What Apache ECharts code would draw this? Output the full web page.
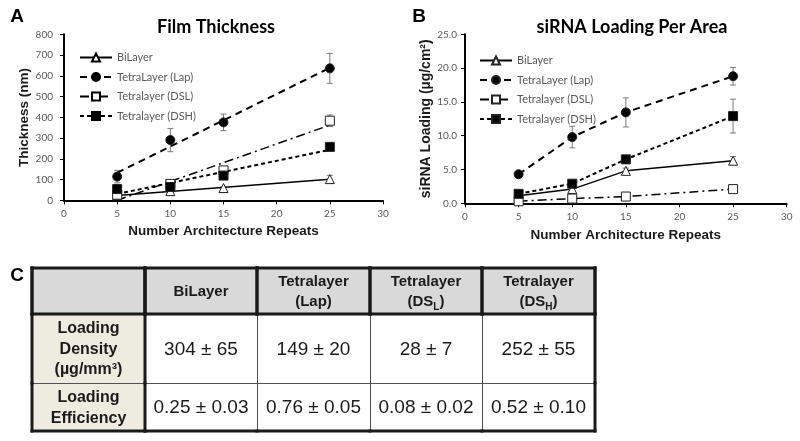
<!DOCTYPE html>
<html><head><meta charset="utf-8">
<script src="https://cdn.jsdelivr.net/npm/echarts@6/dist/echarts.min.js"></script>
<style>html,body{margin:0;padding:0;background:#fff}#c{width:800px;height:441px}</style>
</head><body><div id="c"></div>
<script>
// ---------- data ----------
const repeats = [5, 10, 15, 25];
const seriesNames = ['BiLayer', 'TetraLayer (Lap)', 'Tetralayer (DSL)', 'Tetralayer (DSH)'];

// Panel A: film thickness (nm)
const thickBiLayer = [25, 45, 60, 103];
const thickBiLayerErr = [5, 8, 6, 18];
const thickLap = [115, 291, 376, 636];
const thickLapErr = [30, 56, 40, 72];
const thickDSL = [28, 80, 145, 384];
const thickDSLErr = [8, 10, 12, 28];
const thickDSH = [55, 65, 120, 258];
const thickDSHErr = [20, 10, 12, 15];

// Panel B: siRNA loading per area (µg/cm²)
const loadBiLayer = [1.1, 2.1, 4.8, 6.3];
const loadBiLayerErr = [0.2, 0.4, 0.4, 0.6];
const loadLap = [4.3, 9.8, 13.45, 18.8];
const loadLapErr = [0.3, 1.6, 2.15, 1.3];
const loadDSL = [0.3, 0.7, 1.0, 2.1];
const loadDSLErr = [0.1, 0.2, 0.2, 0.3];
const loadDSH = [1.4, 2.9, 6.5, 12.9];
const loadDSHErr = [0.3, 0.3, 0.4, 2.5];

// Panel C: table
const tableColumns = ['', 'BiLayer', 'Tetralayer\n(Lap)', 'Tetralayer\n(DS_L)', 'Tetralayer\n(DS_H)'];
const tableRowLabels = ['Loading\nDensity\n(µg/mm³)', 'Loading\nEfficiency'];
const loadingDensity = ['304 ± 65', '149 ± 20', '28 ± 7', '252 ± 55'];
const loadingEfficiency = ['0.25 ± 0.03', '0.76 ± 0.05', '0.08 ± 0.02', '0.52 ± 0.10'];

// ---------- styles ----------
const marks = [
  {symbol: 'triangle', size: 9, fill: '#fff', line: {type: 'solid', width: 1.5}},
  {symbol: 'circle', size: 9, fill: '#000', line: {type: [7, 5], width: 2}},
  {symbol: 'rect', size: 9, fill: '#fff', line: {type: [9, 4, 2, 4], width: 1.5}},
  {symbol: 'rect', size: 9, fill: '#000', line: {type: [4, 3], width: 2}}
];
const thickVals = [thickBiLayer, thickLap, thickDSL, thickDSH];
const thickErrs = [thickBiLayerErr, thickLapErr, thickDSLErr, thickDSHErr];
const loadVals = [loadBiLayer, loadLap, loadDSL, loadDSH];
const loadErrs = [loadBiLayerErr, loadLapErr, loadDSLErr, loadDSHErr];

function linearTrend(xs, ys) {
  const n = xs.length;
  const mx = xs.reduce((a, b) => a + b, 0) / n;
  const my = ys.reduce((a, b) => a + b, 0) / n;
  let sxy = 0, sxx = 0;
  for (let i = 0; i < n; i++) { sxy += (xs[i] - mx) * (ys[i] - my); sxx += (xs[i] - mx) ** 2; }
  const b = sxy / sxx, a = my - b * mx;
  const x0 = Math.min(...xs), x1 = Math.max(...xs);
  return [[x0, a + b * x0], [x1, a + b * x1]];
}

function errSeries(name, gi, vals, errs) {
  return {
    type: 'custom', name, xAxisIndex: gi, yAxisIndex: gi, z: 1, silent: true, clip: false,
    data: repeats.map((x, i) => [x, vals[i], errs[i]]),
    encode: {x: 0, y: 1},
    renderItem(params, api) {
      const x = api.value(0), y = api.value(1), e = api.value(2);
      const t = api.coord([x, y + e]), b = api.coord([x, y - e]);
      const hw = 3, st = {stroke: '#7a7a7a', lineWidth: 1};
      return {type: 'group', children: [
        {type: 'line', shape: {x1: t[0], y1: t[1], x2: b[0], y2: b[1]}, style: st},
        {type: 'line', shape: {x1: t[0] - hw, y1: t[1], x2: t[0] + hw, y2: t[1]}, style: st},
        {type: 'line', shape: {x1: b[0] - hw, y1: b[1], x2: b[0] + hw, y2: b[1]}, style: st}
      ]};
    }
  };
}

const series = [];
// Panel A: trend lines + markers
seriesNames.forEach((nm, k) => {
  const m = marks[k];
  series.push({
    type: 'line', name: 'A|' + nm, xAxisIndex: 0, yAxisIndex: 0, z: 2, silent: true,
    data: linearTrend(repeats, thickVals[k]),
    symbol: m.symbol, showSymbol: false,
    itemStyle: {color: m.fill, borderColor: '#000', borderWidth: 1},
    lineStyle: {color: '#000', width: m.line.width, type: m.line.type}
  });
});
seriesNames.forEach((nm, k) => {
  const m = marks[k];
  series.push(errSeries('A|err' + k, 0, thickVals[k], thickErrs[k]));
  series.push({
    type: 'scatter', name: 'A|pts' + k, xAxisIndex: 0, yAxisIndex: 0, z: 3, silent: true,
    data: repeats.map((x, i) => [x, thickVals[k][i]]),
    symbol: m.symbol, symbolSize: m.size,
    itemStyle: {color: m.fill, borderColor: '#222', borderWidth: 1, opacity: 1}
  });
});
// Panel B: connected lines
seriesNames.forEach((nm, k) => {
  const m = marks[k];
  series.push(errSeries('B|err' + k, 1, loadVals[k], loadErrs[k]));
  series.push({
    type: 'line', name: 'B|' + nm, xAxisIndex: 1, yAxisIndex: 1, z: 3, silent: true,
    data: repeats.map((x, i) => [x, loadVals[k][i]]),
    symbol: m.symbol, symbolSize: m.size, showSymbol: true,
    itemStyle: {color: m.fill, borderColor: '#222', borderWidth: 1},
    lineStyle: {color: '#000', width: m.line.width, type: m.line.type}
  });
});

// Panel C: table via custom series on a hidden grid
const ROW_EDGES = [0, 46, 115, 163];
function toRich(label, cls) {
  return label.split('\n').map(line => {
    const mm = line.match(/^(.*)_(\w)(.*)$/);
    if (mm) return `{${cls}|${mm[1]}}{s|${mm[2]}}` + (mm[3] ? `{${cls}|${mm[3]}}` : '');
    return `{${cls}|${line}}`;
  }).join('\n');
}
function cellText(c, r) {
  if (r === 0) return tableColumns[c] ? toRich(tableColumns[c], 'h') : '';
  if (c === 0) return toRich(tableRowLabels[r - 1], 'l');
  const vals = r === 1 ? loadingDensity : loadingEfficiency;
  return toRich(vals[c - 1], 'v');
}
const tableCells = [];
for (let r = 0; r < 3; r++) for (let c = 0; c < 5; c++) tableCells.push([c, r]);
const FF = 'Liberation Sans, Arial, sans-serif';
series.push({
  type: 'custom', name: 'table', xAxisIndex: 2, yAxisIndex: 2, silent: true, clip: false,
  data: tableCells, encode: {x: 0, y: 1},
  renderItem(params, api) {
    const c = api.value(0), r = api.value(1);
    const p0 = api.coord([c, ROW_EDGES[r]]), p1 = api.coord([c + 1, ROW_EDGES[r + 1]]);
    const x0 = Math.round(p0[0]), y0 = Math.round(p0[1]), x1 = Math.round(p1[0]), y1 = Math.round(p1[1]);
    const fill = r === 0 ? '#d9d9d9' : (c === 0 ? '#eeece1' : '#ffffff');
    const ch = [
      {type: 'rect', z2: 0, shape: {x: x0, y: y0, width: x1 - x0, height: y1 - y0}, style: {fill}}
    ];
    const thin = (xa, ya, xb, yb) => ch.push({type: 'line', z2: 5, shape: {x1: xa, y1: ya, x2: xb, y2: yb}, style: {stroke: '#505050', lineWidth: 1}});
    const thick = (xa, ya, xb, yb) => ch.push({type: 'line', z2: 10, shape: {x1: xa, y1: ya, x2: xb, y2: yb}, style: {stroke: '#1a1a1a', lineWidth: 3, lineCap: 'square'}});
    if (r > 0 && c < 4) thin(x1 + 0.5, y0, x1 + 0.5, y1);
    if (r === 1) thin(x0, y1 + 0.5, x1, y1 + 0.5);
    if (r === 0) { thick(x0, y0, x1, y0); thick(x0, y1, x1, y1); thick(x0, y0, x0, y1); thick(x1, y0, x1, y1); }
    if (c === 0) { thick(x0, y0, x0, y1); thick(x1, y0, x1, y1); }
    if (c === 4) thick(x1, y0, x1, y1);
    if (r === 2) thick(x0, y1, x1, y1);
    const txt = cellText(c, r);
    if (txt) ch.push({type: 'text', z2: 20, style: {
      x: (x0 + x1) / 2, y: (y0 + y1) / 2 + 1, text: txt, align: 'center', verticalAlign: 'middle', fill: '#1a1a1a',
      rich: {
        h: {fontFamily: FF, fontWeight: 'bold', fontSize: 15, lineHeight: 20.5, fill: '#1a1a1a'},
        s: {fontFamily: FF, fontWeight: 'bold', fontSize: 10, lineHeight: 20.5, verticalAlign: 'bottom', fill: '#1a1a1a'},
        l: {fontFamily: FF, fontWeight: 'bold', fontSize: 16, lineHeight: 20.5, fill: '#1a1a1a'},
        v: {fontFamily: FF, fontSize: 19, lineHeight: 22, fill: '#1a1a1a'}
      }
    }});
    return {type: 'group', children: ch};
  }
});

// ---------- axes ----------
const axisCommon = {
  axisLine: {show: true, lineStyle: {color: '#000', width: 2}},
  axisTick: {show: true, inside: false, length: 4, lineStyle: {color: '#000', width: 1}},
  splitLine: {show: false},
  nameLocation: 'middle',
  nameTextStyle: {fontFamily: FF, fontWeight: 'bold', fontSize: 13.5, color: '#1a1a1a'}
};
const labelCommon = {color: '#595959', fontSize: 10, fontFamily: 'Lato'};
const legendCommon = {orient: 'vertical', itemWidth: 32, itemHeight: 10, itemGap: 8.5, selectedMode: false,
  formatter: n => n.slice(2), textStyle: {fontFamily: 'Lato', fontSize: 11, color: '#595959'}};

const option = {
  animation: false,
  backgroundColor: '#fff',
  grid: [
    {left: 64, top: 34.3, width: 319, height: 166.2},
    {left: 465, top: 34.3, width: 321.7, height: 169},
    {left: 32, top: 268, width: 563, height: 163}
  ],
  xAxis: [
    Object.assign({}, axisCommon, {gridIndex: 0, type: 'value', min: 0, max: 30, interval: 5, name: 'Number Architecture Repeats', nameGap: 23.5, axisLabel: Object.assign({margin: 8}, labelCommon)}),
    Object.assign({}, axisCommon, {gridIndex: 1, type: 'value', min: 0, max: 30, interval: 5, name: 'Number Architecture Repeats', nameGap: 25, axisLabel: Object.assign({margin: 8}, labelCommon)}),
    {gridIndex: 2, type: 'value', min: 0, max: 5, show: false}
  ],
  yAxis: [
    Object.assign({}, axisCommon, {gridIndex: 0, type: 'value', min: 0, max: 800, interval: 100, name: 'Thickness (nm)', nameGap: 31, axisLabel: Object.assign({margin: 11}, labelCommon)}),
    Object.assign({}, axisCommon, {gridIndex: 1, type: 'value', min: 0, max: 25, interval: 5, name: 'siRNA Loading (µg/cm²)', nameGap: 30,
      nameTextStyle: {fontFamily: FF, fontWeight: 'bold', fontSize: 14, color: '#1a1a1a'},
      axisLabel: Object.assign({margin: 8, formatter: v => v.toFixed(1)}, labelCommon)}),
    {gridIndex: 2, type: 'value', min: 0, max: 163, inverse: true, show: false}
  ],
  legend: [
    Object.assign({data: seriesNames.map(n => 'A|' + n), left: 74, top: 47}, legendCommon),
    Object.assign({data: seriesNames.map(n => 'B|' + n), left: 474, top: 50}, legendCommon)
  ],
  graphic: [
    {type: 'text', x: 216, y: 27, style: {text: 'Film Thickness', align: 'center', verticalAlign: 'middle', font: 'bold 18px Lato', fill: '#000'}},
    {type: 'text', x: 632, y: 27, style: {text: 'siRNA Loading Per Area', align: 'center', verticalAlign: 'middle', font: 'bold 18px Lato', fill: '#000'}},
    {type: 'text', x: 17, y: 17, style: {text: 'A', align: 'center', verticalAlign: 'middle', font: 'bold 19px "Liberation Sans"', fill: '#000'}},
    {type: 'text', x: 419, y: 17, style: {text: 'B', align: 'center', verticalAlign: 'middle', font: 'bold 19px "Liberation Sans"', fill: '#000'}},
    {type: 'text', x: 17, y: 276, style: {text: 'C', align: 'center', verticalAlign: 'middle', font: 'bold 19px "Liberation Sans"', fill: '#000'}}
  ],
  series
};
const chart = echarts.init(document.getElementById('c'), null, {renderer: 'canvas'});
chart.setOption(option);
</script></body></html>
